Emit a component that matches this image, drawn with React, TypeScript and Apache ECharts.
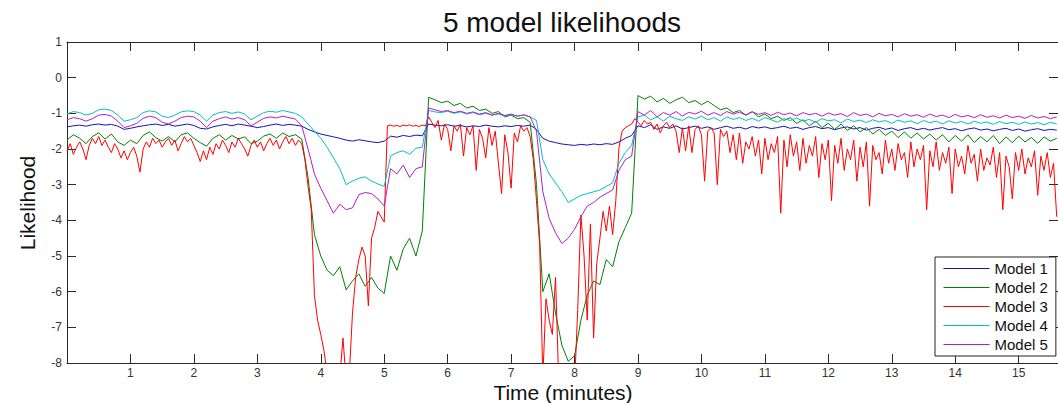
import { useEffect, useRef } from "react";
import * as echarts from "echarts";

// ---- data ----
const seriesNames = ["Model 1", "Model 2", "Model 3", "Model 4", "Model 5"];
const xTickLabels = [1, 2, 3, 4, 5, 6, 7, 8, 9, 10, 11, 12, 13, 14, 15];
const yTickLabels = [-8, -7, -6, -5, -4, -3, -2, -1, 0, 1];

// sampled every 0.1 minute, from 0.0 to 15.6
const model1 = [
  -1.38, -1.35, -1.33, -1.36, -1.32, -1.30, -1.33, -1.31, -1.36, -1.45, // 0
  -1.42, -1.38, -1.35, -1.32, -1.30, -1.34, -1.31, -1.36, -1.33, -1.30, // 1
  -1.34, -1.42, -1.44, -1.38, -1.34, -1.31, -1.35, -1.30, -1.33, -1.36, // 2
  -1.40, -1.37, -1.33, -1.30, -1.34, -1.31, -1.33, -1.36, -1.45, -1.52, // 3
  -1.58, -1.62, -1.66, -1.70, -1.75, -1.78, -1.74, -1.77, -1.80, -1.82, // 4
  -1.78, -1.64, -1.67, -1.62, -1.65, -1.61, -1.63, -1.30, -1.33, -1.35, // 5
  -1.32, -1.36, -1.34, -1.38, -1.35, -1.37, -1.33, -1.36, -1.38, -1.35, // 6
  -1.37, -1.34, -1.36, -1.33, -1.45, -1.70, -1.78, -1.82, -1.86, -1.88, // 7
  -1.90, -1.87, -1.89, -1.86, -1.88, -1.85, -1.87, -1.80, -1.70, -1.62, // 8
  -1.35, -1.40, -1.32, -1.45, -1.38, -1.42, -1.35, -1.44, -1.40, -1.36, // 9
  -1.42, -1.38, -1.45, -1.40, -1.36, -1.42, -1.39, -1.44, -1.37, -1.41, // 10
  -1.38, -1.43, -1.40, -1.36, -1.42, -1.39, -1.45, -1.40, -1.37, -1.43, // 11
  -1.40, -1.46, -1.41, -1.38, -1.44, -1.40, -1.47, -1.42, -1.39, -1.45, // 12
  -1.41, -1.48, -1.43, -1.40, -1.46, -1.42, -1.47, -1.43, -1.40, -1.46, // 13
  -1.43, -1.49, -1.44, -1.41, -1.47, -1.44, -1.49, -1.45, -1.42, -1.48, // 14
  -1.44, -1.50, -1.46, -1.43, -1.48, -1.45, -1.47, // 15
];

const model2 = [
  -1.75, -1.60, -1.70, -1.85, -1.65, -1.55, -1.72, -1.58, -1.80, -1.90, // 0
  -1.75, -1.85, -1.62, -1.52, -1.68, -1.78, -1.65, -1.80, -1.60, -1.55, // 1
  -1.70, -1.82, -1.92, -1.70, -1.60, -1.75, -1.62, -1.72, -1.66, -1.85, // 2
  -1.78, -1.64, -1.58, -1.70, -1.55, -1.65, -1.60, -1.72, -2.80, -4.40, // 3
  -5.00, -5.40, -5.55, -5.30, -5.95, -5.70, -5.50, -5.85, -5.60, -5.90, // 4
  -6.05, -5.00, -5.40, -4.80, -4.50, -5.00, -4.30, -0.55, -0.62, -0.70, // 5
  -0.66, -0.78, -0.72, -0.85, -0.80, -0.92, -0.88, -1.00, -0.95, -1.10, // 6
  -1.05, -1.15, -1.12, -1.25, -3.00, -6.00, -5.50, -6.60, -7.50, -7.95, // 7
  -7.80, -6.80, -6.10, -5.70, -5.80, -5.10, -5.30, -4.60, -4.20, -3.80, // 8
  -0.50, -0.60, -0.52, -0.68, -0.58, -0.72, -0.62, -0.55, -0.70, -0.64, // 9
  -0.76, -0.66, -0.78, -0.90, -0.85, -0.98, -0.92, -1.05, -0.95, -1.10, // 10
  -1.02, -1.15, -1.08, -1.20, -1.12, -1.28, -1.18, -1.35, -1.22, -1.40, // 11
  -1.28, -1.45, -1.30, -1.48, -1.35, -1.52, -1.40, -1.58, -1.45, -1.62, // 12
  -1.50, -1.68, -1.52, -1.70, -1.55, -1.72, -1.58, -1.75, -1.60, -1.80, // 13
  -1.62, -1.78, -1.60, -1.82, -1.65, -1.80, -1.62, -1.85, -1.66, -1.82, // 14
  -1.64, -1.80, -1.68, -1.84, -1.66, -1.78, -1.70, // 15
];

// sampled every 0.05 minute, from 0.00 to 15.60
const model3 = [
  -2.05, -1.85, -2.15, -1.95, -1.80, -2.00, -2.30, -1.90, -1.70, -1.85, // 0.0
  -1.65, -1.90, -1.75, -1.95, -2.10, -1.85, -2.00, -2.25, -2.05, -2.30, // 0.5
  -2.10, -1.95, -2.20, -2.65, -2.00, -1.80, -1.95, -1.70, -1.85, -1.75, // 1.0
  -1.95, -1.80, -1.70, -1.90, -1.75, -2.05, -1.85, -1.65, -1.80, -1.70, // 1.5
  -1.90, -2.10, -2.35, -2.05, -2.30, -1.95, -2.15, -1.85, -2.00, -1.75, // 2.0
  -1.90, -2.10, -1.80, -1.95, -1.70, -1.85, -2.00, -2.20, -1.90, -1.75, // 2.5
  -1.95, -1.80, -2.05, -1.85, -1.70, -1.90, -1.75, -2.00, -1.80, -1.65, // 3.0
  -1.85, -1.70, -1.90, -1.75, -1.85, -2.30, -3.05, -3.70, -6.10, -6.80, // 3.5
  -7.20, -7.65, -8.30, -8.60, -8.50, -8.70, -8.40, -7.30, -8.50, -8.30, // 4.0
  -6.60, -5.60, -5.10, -4.75, -5.00, -6.40, -4.50, -4.20, -3.75, -3.90, // 4.5
  -4.05, -1.35, -1.33, -1.36, -1.34, -1.37, -1.33, -1.35, -1.32, -1.36, // 5.0
  -1.34, -1.37, -1.33, -1.35, -1.10, -1.25, -1.40, -1.20, -1.75, -1.30, // 5.5
  -1.45, -2.05, -1.35, -1.50, -1.30, -2.20, -1.40, -1.60, -1.35, -2.60, // 6.0
  -1.45, -1.70, -2.25, -1.40, -1.90, -1.50, -2.40, -3.25, -1.60, -2.10, // 6.5
  -3.10, -1.55, -1.80, -1.35, -1.50, -1.40, -1.65, -2.30, -3.45, -4.70, // 7.0
  -8.40, -6.20, -6.80, -7.20, -5.60, -8.50, -8.60, -8.50, -8.70, -8.40, // 7.5
  -8.60, -6.50, -3.85, -5.00, -6.80, -4.10, -7.30, -5.20, -4.50, -3.75, // 8.0
  -4.30, -3.60, -4.40, -3.45, -1.96, -1.50, -1.40, -1.35, -1.30, -1.15, // 8.5
  -1.25, -1.35, -1.20, -1.30, -1.25, -1.45, -1.30, -1.55, -1.35, -1.25, // 9.0
  -1.40, -1.30, -1.50, -2.10, -1.40, -2.05, -1.35, -2.10, -1.45, -1.35, // 9.5
  -1.60, -2.90, -1.50, -1.40, -1.55, -3.00, -1.45, -1.65, -1.50, -2.10, // 10.0
  -1.60, -2.30, -1.55, -2.40, -1.80, -2.00, -1.65, -2.20, -1.75, -2.70, // 10.5
  -1.70, -2.30, -1.85, -2.10, -1.65, -3.80, -1.75, -2.50, -1.60, -2.20, // 11.0
  -1.80, -2.60, -1.70, -2.40, -1.90, -2.20, -1.65, -2.80, -1.85, -2.30, // 11.5
  -1.75, -3.45, -1.90, -2.40, -1.70, -2.60, -2.00, -2.30, -1.75, -2.90, // 12.0
  -1.95, -2.50, -1.80, -3.60, -1.90, -2.30, -2.10, -2.70, -1.75, -2.40, // 12.5
  -2.00, -2.60, -1.85, -2.30, -2.10, -2.80, -1.80, -2.50, -2.00, -2.30, // 13.0
  -1.90, -3.70, -2.05, -2.50, -1.80, -2.60, -2.10, -2.40, -1.95, -3.25, // 13.5
  -2.00, -2.50, -2.20, -2.70, -1.90, -2.40, -2.15, -2.90, -2.00, -2.60, // 14.0
  -2.25, -2.45, -1.95, -2.80, -2.10, -3.70, -2.20, -2.50, -3.40, -2.10, // 14.5
  -2.60, -2.00, -2.70, -2.25, -2.50, -2.05, -3.30, -2.20, -2.60, -2.10, // 15.0
  -2.80, -2.40, -3.90, // 15.5
];

const model4 = [
  -1.02, -0.95, -0.98, -1.05, -1.00, -0.90, -0.88, -0.92, -1.05, -1.22, // 0
  -1.18, -1.12, -0.98, -0.93, -0.96, -1.08, -1.12, -1.05, -0.96, -0.93, // 1
  -0.95, -1.05, -1.22, -1.05, -0.98, -0.95, -1.00, -0.96, -1.02, -1.18, // 2
  -1.08, -0.98, -0.94, -0.97, -0.92, -0.96, -1.00, -1.10, -1.30, -1.50, // 3
  -1.70, -1.95, -2.25, -2.55, -3.00, -2.90, -2.82, -2.78, -2.90, -2.98, // 4
  -3.05, -2.20, -2.10, -2.05, -2.15, -1.98, -1.95, -0.92, -0.96, -0.98, // 5
  -0.94, -1.00, -0.96, -1.02, -0.98, -1.04, -1.00, -1.05, -1.02, -1.07, // 6
  -1.04, -1.08, -1.05, -1.10, -1.20, -2.30, -2.70, -2.95, -3.20, -3.50, // 7
  -3.40, -3.30, -3.25, -3.20, -3.15, -3.05, -2.95, -2.40, -2.10, -1.90, // 8
  -1.10, -1.05, -1.18, -1.10, -1.22, -1.08, -1.15, -1.20, -1.10, -1.16, // 9
  -1.08, -1.18, -1.12, -1.22, -1.10, -1.17, -1.12, -1.20, -1.14, -1.22, // 10
  -1.12, -1.18, -1.25, -1.15, -1.20, -1.13, -1.22, -1.17, -1.25, -1.15, // 11
  -1.21, -1.18, -1.27, -1.16, -1.23, -1.19, -1.26, -1.18, -1.24, -1.20, // 12
  -1.28, -1.19, -1.25, -1.21, -1.29, -1.20, -1.26, -1.22, -1.30, -1.21, // 13
  -1.27, -1.23, -1.30, -1.22, -1.28, -1.24, -1.31, -1.23, -1.29, -1.25, // 14
  -1.31, -1.24, -1.30, -1.26, -1.32, -1.25, -1.30, // 15
];

const model5 = [
  -1.18, -1.12, -1.15, -1.22, -1.15, -1.05, -1.03, -1.08, -1.22, -1.40, // 0
  -1.35, -1.28, -1.14, -1.08, -1.12, -1.25, -1.30, -1.22, -1.12, -1.08, // 1
  -1.10, -1.22, -1.40, -1.22, -1.15, -1.10, -1.16, -1.12, -1.18, -1.35, // 2
  -1.25, -1.14, -1.10, -1.13, -1.08, -1.12, -1.16, -1.35, -2.00, -2.70, // 3
  -3.10, -3.45, -3.80, -3.55, -3.70, -3.65, -3.28, -3.22, -3.25, -3.40, // 4
  -3.60, -2.55, -2.70, -2.45, -2.80, -2.55, -2.50, -0.85, -0.90, -0.95, // 5
  -0.92, -0.98, -0.94, -1.00, -0.96, -1.02, -0.98, -1.05, -1.00, -1.06, // 6
  -1.02, -1.08, -1.04, -1.10, -1.50, -3.20, -3.95, -4.35, -4.65, -4.50, // 7
  -4.25, -3.90, -3.60, -3.50, -3.35, -3.25, -3.15, -2.60, -2.30, -2.20, // 8
  -0.95, -1.05, -0.92, -1.10, -0.98, -1.05, -0.95, -1.08, -0.97, -1.02, // 9
  -0.94, -1.05, -0.98, -1.06, -0.95, -1.02, -0.97, -1.05, -0.96, -1.03, // 10
  -0.98, -1.06, -0.97, -1.04, -0.99, -1.07, -0.98, -1.04, -1.00, -1.08, // 11
  -0.99, -1.05, -1.01, -1.09, -0.98, -1.06, -1.02, -1.10, -1.00, -1.07, // 12
  -1.03, -1.10, -1.01, -1.08, -1.04, -1.11, -1.02, -1.09, -1.05, -1.12, // 13
  -1.03, -1.10, -1.06, -1.12, -1.04, -1.11, -1.07, -1.13, -1.05, -1.12, // 14
  -1.08, -1.14, -1.06, -1.13, -1.09, -1.15, -1.10, // 15
];

const seriesValues = [model1, model2, model3, model4, model5];
const seriesSteps = [0.1, 0.1, 0.05, 0.1, 0.1];
const seriesColors = ["#1414b4", "#008000", "#ff0000", "#00bfbf", "#b020c4"];

const X_MIN = 0;
const X_MAX = 15.62;
const Y_MIN = -8;
const Y_MAX = 1;
const FONT = "'Liberation Sans', Arial, Helvetica, sans-serif";

function toPairs(values: number[], step: number) {
  return values.map((v, i) => [Math.round(i * step * 1000) / 1000, v]);
}

export default function App() {
  const ref = useRef<HTMLDivElement>(null);

  useEffect(() => {
    if (!ref.current) return;
    const chart = echarts.init(ref.current, undefined, { renderer: "svg" });

    const axisLine = { show: true, onZero: false, lineStyle: { color: "#2a2a2a", width: 1 } };
    const tick = { show: true, inside: true, length: 9, lineStyle: { color: "#2a2a2a", width: 1 } };
    const labelStyle = { fontSize: 12, color: "#333", fontFamily: FONT };

    const option: any = {
      animation: false,
      backgroundColor: "#ffffff",
      grid: { left: 67, right: 0, top: 42, bottom: 40, containLabel: false },
      xAxis: [
        {
          type: "value",
          position: "bottom",
          min: X_MIN,
          max: X_MAX,
          interval: 1,
          axisLine,
          axisTick: tick,
          splitLine: { show: false },
          axisLabel: {
            ...labelStyle,
            margin: 4,
            showMinLabel: false,
            showMaxLabel: false,
            formatter: (v: number) => (xTickLabels.includes(v) ? String(v) : ""),
          },
        },
        {
          type: "value",
          position: "top",
          min: X_MIN,
          max: X_MAX,
          interval: 1,
          axisLine,
          axisTick: tick,
          splitLine: { show: false },
          axisLabel: { show: false },
        },
      ],
      yAxis: [
        {
          type: "value",
          position: "left",
          min: Y_MIN,
          max: Y_MAX,
          interval: 1,
          axisLine,
          axisTick: tick,
          splitLine: { show: false },
          axisLabel: {
            ...labelStyle,
            margin: 5,
            formatter: (v: number) => (yTickLabels.includes(v) ? String(v) : ""),
          },
        },
        {
          type: "value",
          position: "right",
          min: Y_MIN,
          max: Y_MAX,
          interval: 1,
          axisLine,
          axisTick: tick,
          splitLine: { show: false },
          axisLabel: { show: false },
        },
      ],
      legend: {
        orient: "vertical",
        left: 935,
        top: 257,
        padding: [4, 8, 4, 8],
        itemWidth: 46,
        itemHeight: 14,
        itemGap: 4,
        backgroundColor: "#ffffff",
        borderColor: "#222",
        borderWidth: 1,
        borderRadius: 0,
        itemStyle: { opacity: 0, borderWidth: 0 },
        lineStyle: { width: 1 },
        textStyle: { fontSize: 15, color: "#111", fontFamily: FONT },
        data: seriesNames,
      },
      series: seriesNames.map((name, k) => ({
        name,
        type: "line",
        xAxisIndex: 0,
        yAxisIndex: 0,
        symbol: "none",
        showSymbol: false,
        clip: true,
        color: seriesColors[k],
        lineStyle: { width: 1, color: seriesColors[k] },
        data: toPairs(seriesValues[k], seriesSteps[k]),
      })),
      graphic: [
        {
          type: "text",
          x: 562,
          y: 22,
          style: {
            text: "5 model likelihoods",
            fontSize: 28,
            fontFamily: FONT,
            fill: "#111",
            textAlign: "center",
            textVerticalAlign: "middle",
          },
        },
        {
          type: "text",
          x: 563,
          y: 392,
          style: {
            text: "Time (minutes)",
            fontSize: 21,
            fontFamily: FONT,
            fill: "#111",
            textAlign: "center",
            textVerticalAlign: "middle",
          },
        },
        {
          type: "text",
          x: 27,
          y: 203,
          rotation: Math.PI / 2,
          style: {
            text: "Likelihood",
            fontSize: 21,
            fontFamily: FONT,
            fill: "#111",
            textAlign: "center",
            textVerticalAlign: "middle",
          },
        },
      ],
    };

    chart.setOption(option);
    return () => chart.dispose();
  }, []);

  return (
    <div
      ref={ref}
      style={{ position: "fixed", left: 0, top: 0, width: 1058, height: 403, background: "#fff" }}
    />
  );
}
